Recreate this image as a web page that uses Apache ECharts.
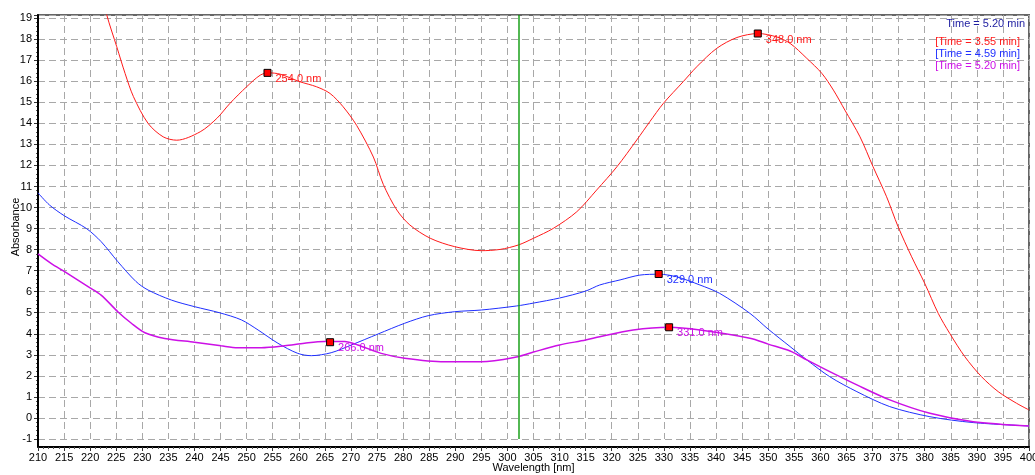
<!DOCTYPE html>
<html>
<head>
<meta charset="utf-8">
<script src="https://cdn.jsdelivr.net/npm/echarts@6/dist/echarts.min.js"></script>
<style>
  html, body { margin: 0; padding: 0; background: #fff; }
  #main { width: 1035px; height: 475px; }
</style>
</head>
<body>
<div id="main"></div>
<script>
// spectra: wavelength [nm] / absorbance
var redWl = [222.3, 223.2, 225.1, 226.7, 228.3, 231.1, 234.0, 236.6, 241.1, 244.3, 246.8, 250.0, 252.6, 254.2, 256.4, 260.2, 263.4, 266.0, 268.5, 271.1, 274.3, 276.2, 278.8, 281.3, 285.2, 289.9, 295.0, 298.6, 302.1, 305.0, 308.8, 313.3, 317.1, 321.0, 324.8, 327.3, 329.9, 333.7, 336.3, 340.1, 344.0, 348.1, 351.6, 354.2, 357.4, 360.3, 362.5, 364.7, 367.6, 370.1, 372.7, 374.9, 377.5, 380.0, 382.6, 384.8, 387.7, 390.9, 394.1, 397.6, 400];
var redAbs = [20.2, 19.14, 17.64, 16.37, 15.27, 14.0, 13.36, 13.2, 13.6, 14.24, 14.95, 15.74, 16.29, 16.4, 16.34, 15.98, 15.74, 15.42, 14.79, 13.9, 12.4, 11.1, 9.88, 9.17, 8.54, 8.14, 7.95, 8.01, 8.22, 8.54, 9.01, 9.8, 10.83, 11.94, 13.21, 14.08, 14.95, 15.98, 16.69, 17.56, 18.08, 18.27, 18.11, 17.8, 17.09, 16.37, 15.58, 14.63, 13.36, 11.94, 10.51, 9.09, 7.66, 6.4, 4.97, 4.02, 2.91, 1.96, 1.25, 0.7, 0.38];

var blueWl = [210, 212.2, 215.1, 219.3, 222.1, 225.3, 228.8, 231.1, 235.6, 240.0, 244.8, 249.0, 252.2, 256.0, 259.8, 262.4, 266.2, 270.1, 275.2, 280.3, 284.8, 289.9, 295.0, 301.7, 305, 310, 315, 317.7, 321.6, 325.4, 329.1, 332.4, 336.9, 340.7, 346.5, 350, 354.2, 357.4, 361.8, 367.0, 373.3, 381.0, 389.3, 400];
var blueAbs = [10.7, 10.12, 9.6, 9.0, 8.38, 7.43, 6.48, 6.08, 5.6, 5.29, 5.0, 4.66, 4.18, 3.55, 3.07, 2.96, 3.1, 3.47, 3.99, 4.5, 4.86, 5.05, 5.13, 5.32, 5.46, 5.7, 6.03, 6.32, 6.56, 6.79, 6.83, 6.71, 6.32, 5.92, 4.97, 4.22, 3.39, 2.76, 1.96, 1.25, 0.54, 0.06, -0.22, -0.38];

var magWl = [210, 212.5, 215.1, 219.6, 222.1, 225.3, 227.9, 230.5, 234.3, 240.0, 245.1, 248.3, 252.8, 257.3, 261.1, 264.9, 268.8, 271.3, 275.8, 280.3, 287.9, 295.0, 302.0, 305, 310, 315, 317.7, 324.1, 331.0, 336.9, 346.5, 350, 354.2, 357.4, 361.8, 367.0, 373.3, 381.0, 389.3, 400];
var magAbs = [7.8, 7.35, 6.95, 6.24, 5.84, 5.05, 4.5, 4.05, 3.78, 3.6, 3.43, 3.34, 3.34, 3.43, 3.55, 3.63, 3.63, 3.47, 3.07, 2.84, 2.67, 2.67, 2.91, 3.13, 3.47, 3.7, 3.86, 4.18, 4.31, 4.18, 3.79, 3.51, 3.18, 2.76, 2.2, 1.57, 0.86, 0.22, -0.18, -0.38];

// peak markers [wavelength, absorbance]
var redPeaks = [[254.0, 16.4], [348.0, 18.27]];
var bluePeaks = [[329.0, 6.84]];
var magPeaks = [[266.0, 3.6], [331.0, 4.31]];

var seriesNames = ['Time = 3.55 min', 'Time = 4.59 min', 'Time = 5.20 min'];
var cursorWl = 302.2;

var redColor = '#ff1a1a';
var blueColor = '#1f2fff';
var magColor = '#cc10e6';

function pairs(xs, ys) {
    return xs.map(function (x, i) { return [x, ys[i]]; });
}

function peakMarks(peaks, color) {
    return {
        symbol: 'rect',
        symbolSize: 7,
        itemStyle: { color: '#ff0000', borderColor: '#000', borderWidth: 1 },
        label: {
            show: true,
            position: 'right',
            offset: [-1, 6],
            color: color,
            fontSize: 11,
            fontFamily: 'Liberation Sans, Arial, sans-serif',
            formatter: function (p) { return p.data.coord[0].toFixed(1) + ' nm'; }
        },
        data: peaks.map(function (p) { return { coord: p }; })
    };
}

var myChart = echarts.init(document.getElementById('main'));

var gridLine = { color: '#a8a8a8', width: 1, type: [7, 4] };

var option = {
    animation: false,
    backgroundColor: '#fff',
    textStyle: { fontFamily: 'Liberation Sans, Arial, sans-serif' },
    title: {
        text: 'Time = 5.20 min',
        right: 10,
        top: 18,
        padding: 0,
        textStyle: { color: '#1c1ca0', fontSize: 11, fontWeight: 'normal' }
    },
    legend: {
        orient: 'vertical',
        right: 10,
        top: 36,
        padding: 0,
        itemGap: 1,
        itemWidth: 0,
        itemHeight: 0,
        icon: 'none',
        align: 'right',
        formatter: '[{name}]',
        textStyle: { fontSize: 11, padding: 0 },
        data: [
            { name: seriesNames[0], textStyle: { color: redColor } },
            { name: seriesNames[1], textStyle: { color: blueColor } },
            { name: seriesNames[2], textStyle: { color: magColor } }
        ]
    },
    grid: { left: 38, right: 6, top: 15, bottom: 36, containLabel: false, outerBoundsMode: 'none' },
    xAxis: {
        type: 'value',
        min: 210,
        max: 400,
        interval: 5,
        offset: 8,
        name: 'Wavelength [nm]',
        nameLocation: 'middle',
        nameGap: 15,
        nameMoveOverlap: false,
        nameTextStyle: { color: '#000', fontSize: 11 },
        axisLine: { show: true, onZero: false, lineStyle: { color: '#000', width: 2 } },
        axisTick: { show: true, length: 4, lineStyle: { color: '#333' } },
        minorTick: { show: true, splitNumber: 5, length: 2, lineStyle: { color: '#555' } },
        axisLabel: { color: '#000', fontSize: 11, margin: 5 },
        splitLine: { show: true, lineStyle: gridLine }
    },
    yAxis: {
        type: 'value',
        min: -1,
        max: 19.15,
        interval: 1,
        name: 'Absorbance',
        nameLocation: 'middle',
        nameGap: 17,
        nameMoveOverlap: false,
        nameTextStyle: { color: '#000', fontSize: 11 },
        axisLine: { show: true, onZero: false, lineStyle: { color: '#000', width: 2 } },
        axisTick: { show: true, length: 4, lineStyle: { color: '#333' } },
        minorTick: { show: true, splitNumber: 5, length: 2, lineStyle: { color: '#555' } },
        axisLabel: { color: '#000', fontSize: 11, margin: 6, showMaxLabel: false },
        splitLine: { show: true, lineStyle: gridLine }
    },
    graphic: [{
        type: 'rect',
        shape: { x: 38, y: 15, width: 991, height: 432 },
        style: { fill: 'none', stroke: '#666', lineWidth: 2 },
        z: 0,
        silent: true
    }, {
        type: 'line',
        shape: { x1: 38, y1: 15, x2: 38, y2: 447 },
        style: { stroke: '#000', lineWidth: 2 },
        z: 1,
        silent: true
    }],
    series: [
        {
            name: seriesNames[0],
            type: 'line',
            data: pairs(redWl, redAbs),
            showSymbol: false,
            smooth: 0.3,
            lineStyle: { color: redColor, width: 1 },
            itemStyle: { color: redColor },
            markPoint: peakMarks(redPeaks, redColor),
            markLine: {
                silent: true,
                symbol: 'none',
                label: { show: false },
                lineStyle: { color: '#1aa01a', width: 1.5, type: 'solid' },
                data: [{ xAxis: cursorWl }]
            }
        },
        {
            name: seriesNames[1],
            type: 'line',
            data: pairs(blueWl, blueAbs),
            showSymbol: false,
            smooth: 0.3,
            lineStyle: { color: blueColor, width: 1 },
            itemStyle: { color: blueColor },
            markPoint: peakMarks(bluePeaks, blueColor)
        },
        {
            name: seriesNames[2],
            type: 'line',
            data: pairs(magWl, magAbs),
            showSymbol: false,
            smooth: 0.3,
            lineStyle: { color: magColor, width: 1.5 },
            itemStyle: { color: magColor },
            markPoint: peakMarks(magPeaks, magColor)
        }
    ]
};

myChart.setOption(option);
</script>
</body>
</html>
